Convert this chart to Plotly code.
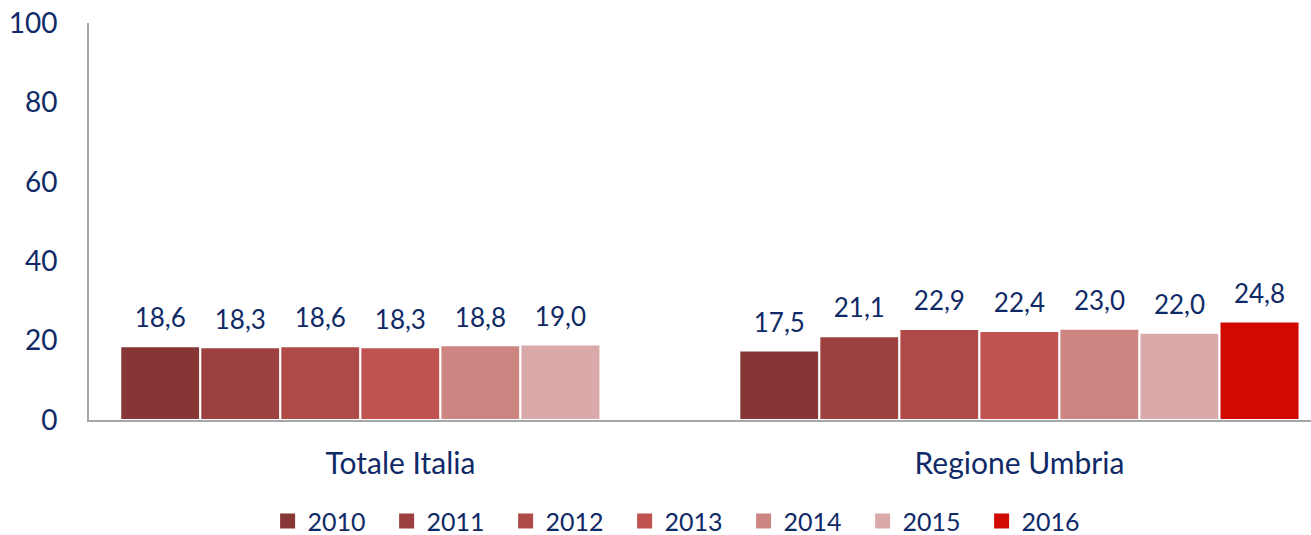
import plotly.graph_objects as go

# Chart data
categories = ["Totale Italia", "Regione Umbria"]
years = ["2010", "2011", "2012", "2013", "2014", "2015", "2016"]
values = {
    "2010": [18.6, 17.5],
    "2011": [18.3, 21.1],
    "2012": [18.6, 22.9],
    "2013": [18.3, 22.4],
    "2014": [18.8, 23.0],
    "2015": [19.0, 22.0],
    "2016": [None, 24.8],
}
y_ticks = [0, 20, 40, 60, 80, 100]

colors = ["#873636", "#9D4040", "#AE4A48", "#C05350", "#CD8582", "#DAAAAA", "#D00A00"]
navy = "#0F2A66"
font_family = "Lato, 'Noto Sans', sans-serif"

fig = go.Figure()

for i, yr in enumerate(years):
    fig.add_trace(
        go.Bar(
            x=categories,
            y=values[yr],
            name=yr,
            offsetgroup=yr,
            showlegend=False,
            marker=dict(color=colors[i], line=dict(color="white", width=2)),
        )
    )

# value labels, floated above the bars
for i, yr in enumerate(years):
    vals = values[yr]
    labels = ["" if v is None else f"{v:.1f}".replace(".", ",") for v in vals]
    fig.add_trace(
        go.Scatter(
            x=categories,
            y=vals,
            mode="markers+text",
            text=labels,
            textposition="top center",
            offsetgroup=yr,
            marker=dict(size=18, opacity=0, color="white"),
            textfont=dict(size=26, color=navy, family=font_family),
            showlegend=False,
            hoverinfo="skip",
            cliponaxis=False,
        )
    )

# legend entries with bigger square swatches
for i, yr in enumerate(years):
    fig.add_trace(
        go.Scatter(
            x=[None],
            y=[None],
            mode="markers",
            name=yr,
            offsetgroup=yr,
            marker=dict(symbol="square", size=15, color=colors[i]),
        )
    )

fig.update_layout(
    width=1311,
    height=535,
    margin=dict(l=89, r=0, t=23, b=115, autoexpand=False),
    paper_bgcolor="white",
    plot_bgcolor="white",
    barmode="group",
    scattermode="group",
    bargap=0.095,
    bargroupgap=0,
    scattergap=0.095,
    font=dict(family=font_family, size=26, color=navy),
    legend=dict(
        orientation="h",
        x=0.487,
        xanchor="center",
        y=-0.255,
        yanchor="middle",
        font=dict(size=25, color=navy),
        entrywidth=74,
        entrywidthmode="pixels",
        traceorder="normal",
        itemwidth=30,
        tracegroupgap=0,
    ),
    xaxis=dict(
        type="category",
        range=[-0.503, 1.471],
        showline=True,
        linecolor="#A6A6A6",
        linewidth=2,
        showgrid=False,
        ticks="",
        ticklabelstandoff=16,
        tickfont=dict(size=30, color=navy),
        automargin=False,
    ),
    yaxis=dict(
        range=[0, 100],
        tickvals=y_ticks,
        showline=True,
        linecolor="#A6A6A6",
        linewidth=2,
        showgrid=False,
        zeroline=False,
        ticks="",
        ticklabelstandoff=24,
        ticklabeloverflow="allow",
        tickfont=dict(size=28, color=navy),
        automargin=False,
    ),
)

# drop the default page margin so the figure sits at the window's corner
fig.write_html(
    "out.html",
    config={"displayModeBar": False},
    post_script="document.body.style.margin = '0';",
)
